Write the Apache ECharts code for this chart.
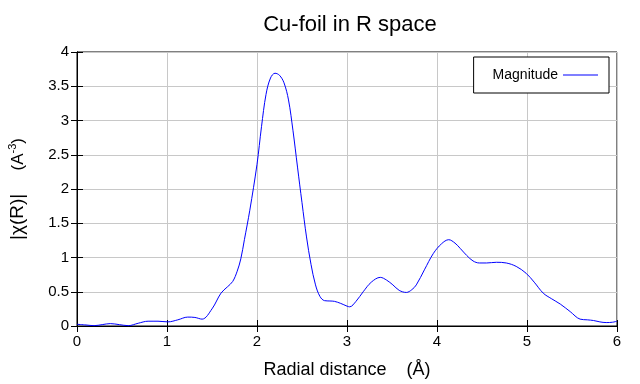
<!DOCTYPE html>
<html>
<head>
<meta charset="utf-8">
<script src="https://cdn.jsdelivr.net/npm/echarts@6/dist/echarts.min.js"></script>
<style>html,body{margin:0;padding:0;background:#fff}#c{width:640px;height:384px}</style>
</head>
<body>
<div id="c"></div>
<script>
var radius = [0.0, 0.1, 0.19, 0.28, 0.37, 0.47, 0.57, 0.68, 0.79, 0.9, 1.01, 1.12, 1.23, 1.31, 1.39, 1.5, 1.6, 1.67, 1.73, 1.78, 1.82, 1.86, 1.92, 2.0, 2.05, 2.1, 2.15, 2.2, 2.25, 2.3, 2.35, 2.4, 2.45, 2.5, 2.55, 2.6, 2.65, 2.7, 2.75, 2.81, 2.86, 2.93, 3.0, 3.03, 3.1, 3.18, 3.27, 3.37, 3.44, 3.51, 3.58, 3.66, 3.72, 3.77, 3.86, 3.96, 4.05, 4.13, 4.2, 4.26, 4.33, 4.4, 4.47, 4.55, 4.66, 4.77, 4.88, 4.99, 5.08, 5.18, 5.27, 5.37, 5.48, 5.59, 5.67, 5.74, 5.81, 5.88, 5.95, 6.0];
var magnitude = [0.025, 0.015, 0.005, 0.02, 0.035, 0.02, 0.005, 0.04, 0.07, 0.07, 0.06, 0.09, 0.13, 0.125, 0.1, 0.25, 0.48, 0.57, 0.65, 0.8, 0.98, 1.26, 1.69, 2.36, 2.91, 3.38, 3.62, 3.69, 3.66, 3.55, 3.3, 2.85, 2.32, 1.8, 1.3, 0.9, 0.6, 0.43, 0.37, 0.365, 0.36, 0.33, 0.29, 0.28, 0.36, 0.5, 0.64, 0.71, 0.67, 0.6, 0.52, 0.49, 0.53, 0.6, 0.82, 1.06, 1.2, 1.26, 1.21, 1.13, 1.03, 0.95, 0.92, 0.92, 0.93, 0.92, 0.87, 0.77, 0.64, 0.48, 0.4, 0.32, 0.21, 0.1, 0.09, 0.08, 0.06, 0.05, 0.055, 0.07];
var xTicks = [0, 1, 2, 3, 4, 5, 6];
var yTicks = [0, 0.5, 1, 1.5, 2, 2.5, 3, 3.5, 4];

var pts = radius.map(function (r, i) { return [r, magnitude[i]]; });
var font = '"Liberation Sans", Arial, sans-serif';
var chart = echarts.init(document.getElementById('c'), null, {renderer: 'canvas'});
chart.setOption({
  animation: false,
  backgroundColor: '#fff',
  title: {
    text: 'Cu-foil in R space',
    left: 345, textAlign: 'center', top: 9,
    textStyle: {fontFamily: font, fontSize: 22, fontWeight: 'normal', color: '#000'}
  },
  legend: {
    right: 31, top: 57,
    data: ['Magnitude'],
    align: 'right',
    icon: 'rect',
    itemWidth: 35, itemHeight: 1,
    itemGap: 7,
    padding: [11, 11, 11, 19],
    borderColor: '#000', borderWidth: 1,
    backgroundColor: '#fff',
    textStyle: {fontFamily: font, fontSize: 14, color: '#000'}
  },
  grid: {left: 77, right: 23, top: 52, bottom: 58, show: true, borderColor: '#000', borderWidth: 1,
    outerBoundsMode: 'none', containLabel: false},
  xAxis: [{
    type: 'value', min: 0, max: 6, interval: 1,
    name: 'Radial distance    (Å)', nameLocation: 'middle', nameGap: 35,
    nameTextStyle: {fontFamily: font, fontSize: 18, color: '#000'},
    axisLine: {lineStyle: {color: '#000'}},
    axisTick: {inside: true, length: 6, lineStyle: {color: '#000'}},
    axisLabel: {fontFamily: font, fontSize: 15, color: '#000', margin: 8,
      formatter: function (v) { return xTicks.indexOf(v) >= 0 ? String(v) : ''; }},
    splitLine: {show: true, lineStyle: {color: '#c8c8c8'}}
  }, {
    type: 'value', min: 0, max: 6, interval: 1, position: 'top',
    axisLine: {show: true, lineStyle: {color: '#000'}},
    axisTick: {show: true, inside: true, length: 6, lineStyle: {color: '#000'}},
    axisLabel: {show: false}, splitLine: {show: false}
  }],
  yAxis: [{
    type: 'value', min: 0, max: 4, interval: 0.5,
    name: '{a||χ(R)|}       {b|(A}{c|-3}{b|)}', nameLocation: 'middle', nameGap: 48, nameRotate: 90,
    nameTextStyle: {fontFamily: font, color: '#000',
      rich: {
        a: {fontFamily: font, fontSize: 19, color: '#000', lineHeight: 22},
        b: {fontFamily: font, fontSize: 17, color: '#000', lineHeight: 22},
        c: {fontFamily: font, fontSize: 11, color: '#000', verticalAlign: 'top', lineHeight: 11}
      }},
    axisLine: {show: true, lineStyle: {color: '#000'}},
    axisTick: {show: true, inside: true, length: 6, lineStyle: {color: '#000'}},
    axisLabel: {fontFamily: font, fontSize: 15, color: '#000', margin: 8,
      formatter: function (v) { return yTicks.indexOf(v) >= 0 ? String(v) : ''; }},
    splitLine: {show: true, lineStyle: {color: '#c8c8c8'}}
  }, {
    type: 'value', min: 0, max: 4, interval: 0.5, position: 'right',
    axisLine: {show: true, lineStyle: {color: '#000'}},
    axisTick: {show: true, inside: true, length: 6, lineStyle: {color: '#000'}},
    axisLabel: {show: false}, splitLine: {show: false}
  }],
  series: [{
    name: 'Magnitude', type: 'line', data: pts,
    smooth: 0.35, showSymbol: false, symbol: 'none',
    lineStyle: {color: '#0000ff', width: 1},
    itemStyle: {color: '#0000ff'}
  }]
});
</script>
</body>
</html>
